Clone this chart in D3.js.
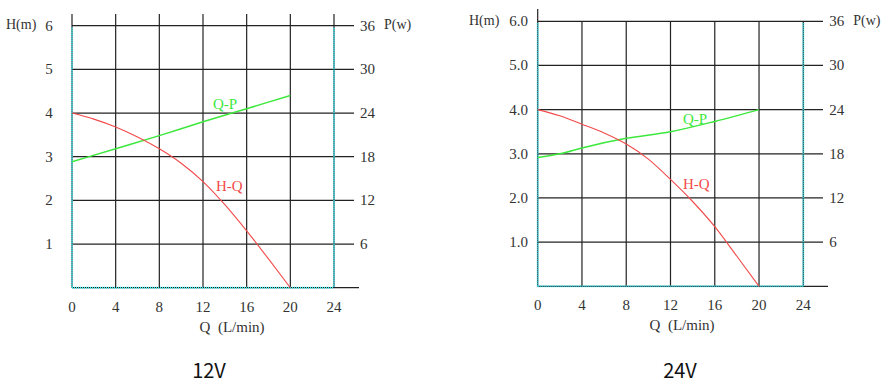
<!DOCTYPE html>
<html>
<head>
<meta charset="utf-8">
<script src="https://cdn.jsdelivr.net/npm/d3@7"></script>
<style>
  body { margin: 0; background: #fff; }
  svg { display: block; }
  .lbl { font-family: "Liberation Serif", "DejaVu Serif", serif; font-size: 15px; fill: #333; }
  .title { font-family: "Noto Sans CJK SC", "Noto Sans", sans-serif; font-size: 20px; fill: #111; }
</style>
</head>
<body>
<svg id="chart" width="895" height="387"></svg>
<script>
// flow axis (L/min)
var flowTicks = [0, 4, 8, 12, 16, 20, 24];
var headValues = [1, 2, 3, 4, 5, 6];
var headLabels12 = ["1", "2", "3", "4", "5", "6"];
var headLabels24 = ["1.0", "2.0", "3.0", "4.0", "5.0", "6.0"];
var powerTicks = [6, 12, 18, 24, 30, 36];

// 12V curves
var hq12Flow = [0, 2, 4, 6, 8, 10, 12, 14, 16, 18, 20];
var hq12Head = [4.0, 3.86, 3.68, 3.45, 3.18, 2.85, 2.43, 1.9, 1.3, 0.66, 0];
var qp12Flow = [0, 4, 8, 12, 16, 20];
var qp12Power = [17.3, 19.1, 20.9, 22.8, 24.6, 26.4];

// 24V curves
var hq24Flow = [0, 2, 4, 6, 8, 10, 12, 14, 16, 18, 20];
var hq24Head = [4.0, 3.86, 3.67, 3.47, 3.22, 2.88, 2.42, 1.92, 1.35, 0.68, 0];
var qp24Flow = [0, 2, 4, 8, 12, 16, 20];
var qp24Power = [17.5, 18.0, 18.8, 20.1, 21.0, 22.4, 24.0];

var svg = d3.select("#chart");

function drawPanel(p) {
  var x = d3.scaleLinear().domain([0, 24]).range([p.x0, p.x1]);
  var yH = d3.scaleLinear().domain([0, 6]).range([p.y0, p.y1]);
  var yP = d3.scaleLinear().domain([0, 36]).range([p.y0, p.y1]);
  var g = svg.append("g");

  // horizontal grid
  g.selectAll(".hgrid").data(headValues).enter().append("line")
    .attr("x1", p.x0).attr("x2", p.xExt)
    .attr("y1", function(d) { return yH(d); }).attr("y2", function(d) { return yH(d); })
    .style("stroke", "#222").style("stroke-width", 1.2);
  g.append("line")
    .attr("x1", p.x0).attr("x2", p.xExt + 5)
    .attr("y1", yH(0)).attr("y2", yH(0))
    .style("stroke", "#222").style("stroke-width", 1.2);

  // vertical grid
  g.selectAll(".vgrid").data(flowTicks).enter().append("line")
    .attr("x1", function(d) { return x(d); }).attr("x2", function(d) { return x(d); })
    .attr("y1", function(d) { return d === 0 ? p.axisTop : p.vTop; })
    .attr("y2", yH(0))
    .style("stroke", "#222").style("stroke-width", 1.2);

  // cyan dotted frame
  var cyan = [[x(0), yH(6) + 2, x(0), yH(0)], [x(24), yH(6) + 2, x(24), yH(0)], [x(0), yH(0), x(24), yH(0)]];
  g.selectAll(".frame").data(cyan).enter().append("line")
    .attr("x1", function(d) { return d[0]; }).attr("y1", function(d) { return d[1]; })
    .attr("x2", function(d) { return d[2]; }).attr("y2", function(d) { return d[3]; })
    .style("stroke", "#35e8f0").style("stroke-width", 2).style("stroke-dasharray", "1,1");

  // curves
  var hqLine = d3.line().x(function(d) { return x(d[0]); }).y(function(d) { return yH(d[1]); }).curve(d3.curveMonotoneX);
  var qpLine = d3.line().x(function(d) { return x(d[0]); }).y(function(d) { return yP(d[1]); }).curve(d3.curveMonotoneX);
  g.append("path").attr("d", qpLine(d3.zip(p.qpFlow, p.qpPower)))
    .style("fill", "none").style("stroke", "#3de83d").style("stroke-width", 1.5);
  g.append("path").attr("d", hqLine(d3.zip(p.hqFlow, p.hqHead)))
    .style("fill", "none").style("stroke", "#f24a4a").style("stroke-width", 1.1);

  g.append("text").attr("class", "lbl").attr("x", p.qpLabel[0]).attr("y", p.qpLabel[1])
    .attr("dominant-baseline", "central").style("fill", "#3de83d").text("Q-P");
  g.append("text").attr("class", "lbl").attr("x", p.hqLabel[0]).attr("y", p.hqLabel[1])
    .attr("dominant-baseline", "central").style("fill", "#f24a4a").text("H-Q");

  // left labels
  g.selectAll(".hl").data(headValues).enter().append("text")
    .attr("class", "lbl")
    .attr("x", p.hLabelX).attr("y", function(d) { return yH(d); })
    .attr("text-anchor", p.hAnchor).attr("dominant-baseline", "central")
    .text(function(d, i) { return p.headLabels[i]; });
  g.append("text").attr("class", "lbl").attr("x", p.hTitleX).attr("y", yH(6) - 1)
    .attr("dominant-baseline", "central").style("font-size", "14px").text("H(m)");

  // right labels
  g.selectAll(".pl").data(powerTicks).enter().append("text")
    .attr("class", "lbl")
    .attr("x", x(24) + 26).attr("y", function(d) { return yP(d); })
    .attr("dominant-baseline", "central")
    .text(function(d) { return d; });
  g.append("text").attr("class", "lbl").attr("x", x(24) + 50).attr("y", yP(36) - 1)
    .attr("dominant-baseline", "central").style("font-size", "14px").text("P(w)");

  // bottom labels
  g.selectAll(".ql").data(flowTicks).enter().append("text")
    .attr("class", "lbl")
    .attr("x", function(d) { return x(d); }).attr("y", yH(0) + 19)
    .attr("text-anchor", "middle").attr("dominant-baseline", "central")
    .text(function(d) { return d; });
  g.append("text").attr("class", "lbl").attr("x", p.qTitleX).attr("y", yH(0) + 39)
    .attr("text-anchor", "middle").attr("dominant-baseline", "central")
    .style("word-spacing", "4px").text("Q (L/min)");

  svg.append("text").attr("class", "title").attr("x", p.titleX).attr("y", 378)
    .attr("text-anchor", "middle").text(p.title);
}

drawPanel({
  x0: 72, x1: 334, y0: 287.7, y1: 25.7, xExt: 354, axisTop: 14, vTop: 14,
  headLabels: headLabels12, hLabelX: 49, hAnchor: "middle", hTitleX: 6, qTitleX: 232,
  hqFlow: hq12Flow, hqHead: hq12Head, qpFlow: qp12Flow, qpPower: qp12Power,
  qpLabel: [213, 104], hqLabel: [216, 186], title: "12V", titleX: 209
});
drawPanel({
  x0: 537.7, x1: 803.3, y0: 286.3, y1: 21.3, xExt: 823, axisTop: 9, vTop: 21.3,
  headLabels: headLabels24, hLabelX: 528, hAnchor: "end", hTitleX: 469, qTitleX: 682,
  hqFlow: hq24Flow, hqHead: hq24Head, qpFlow: qp24Flow, qpPower: qp24Power,
  qpLabel: [683, 119], hqLabel: [683, 184], title: "24V", titleX: 680
});
</script>
</body>
</html>
